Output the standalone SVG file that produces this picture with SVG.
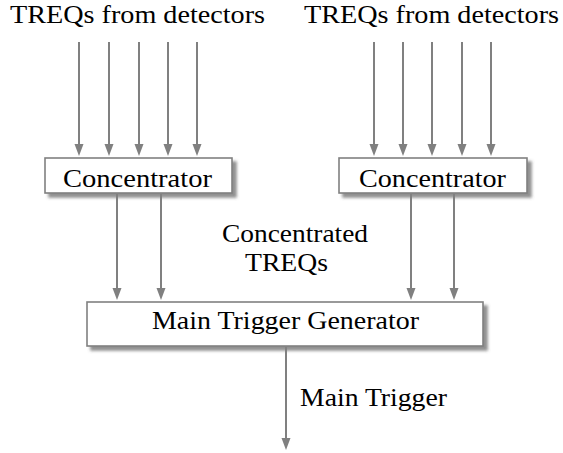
<svg xmlns="http://www.w3.org/2000/svg" width="563" height="453" viewBox="0 0 563 453">
<style>
text{font-family:"Liberation Serif","DejaVu Serif",serif;font-size:25px;fill:#000}
.box{fill:#fff;stroke:#808080;stroke-width:1.6}
.conn line{stroke:#808080;stroke-width:2;marker-end:url(#ah)}
</style>
<defs>
<marker id="ah" markerUnits="userSpaceOnUse" markerWidth="13" markerHeight="10" refX="6" refY="4.5" orient="auto" viewBox="0 0 13 9">
<path d="M0,0 L12,4.5 L0,9 Z" fill="#808080"/>
</marker>
<filter id="sh" x="-10%" y="-20%" width="130%" height="160%">
<feGaussianBlur in="SourceAlpha" stdDeviation="1.6"/>
<feOffset dx="3.5" dy="3.5" result="b"/>
<feFlood flood-color="#606060" flood-opacity="0.7"/>
<feComposite in2="b" operator="in"/>
<feMerge><feMergeNode/><feMergeNode in="SourceGraphic"/></feMerge>
</filter>
</defs>
<g id="labels">
<text x="10" y="23" textLength="255" lengthAdjust="spacingAndGlyphs">TREQs from detectors</text>
<text x="304" y="23" textLength="255" lengthAdjust="spacingAndGlyphs">TREQs from detectors</text>
<text x="222" y="242" textLength="146" lengthAdjust="spacingAndGlyphs">Concentrated</text>
<text x="245" y="271" textLength="83" lengthAdjust="spacingAndGlyphs">TREQs</text>
<text x="300" y="406" textLength="147" lengthAdjust="spacingAndGlyphs">Main Trigger</text>
</g>
<g id="conc-left">
<rect class="box" x="45" y="158" width="187" height="35" filter="url(#sh)"/>
<text x="63" y="187" textLength="149" lengthAdjust="spacingAndGlyphs">Concentrator</text>
</g>
<g id="conc-right">
<rect class="box" x="339" y="158" width="188" height="35" filter="url(#sh)"/>
<text x="359" y="187" textLength="147" lengthAdjust="spacingAndGlyphs">Concentrator</text>
</g>
<g id="main">
<rect class="box" x="87" y="302" width="396" height="44" filter="url(#sh)"/>
<text x="152" y="329" textLength="267" lengthAdjust="spacingAndGlyphs">Main Trigger Generator</text>
</g>
<g class="conn" id="connectors">
<line x1="79" y1="42" x2="79" y2="150"/>
<line x1="109" y1="42" x2="109" y2="150"/>
<line x1="139" y1="42" x2="139" y2="150"/>
<line x1="168" y1="42" x2="168" y2="150"/>
<line x1="197" y1="42" x2="197" y2="150"/>
<line x1="374" y1="42" x2="374" y2="150"/>
<line x1="403" y1="42" x2="403" y2="150"/>
<line x1="432" y1="42" x2="432" y2="150"/>
<line x1="462" y1="42" x2="462" y2="150"/>
<line x1="491" y1="42" x2="491" y2="150"/>
<line x1="117" y1="194" x2="117" y2="294"/>
<line x1="161" y1="194" x2="161" y2="294"/>
<line x1="411" y1="194" x2="411" y2="294"/>
<line x1="454" y1="194" x2="454" y2="294"/>
<line x1="286" y1="347" x2="286" y2="444"/>
</g>
</svg>
